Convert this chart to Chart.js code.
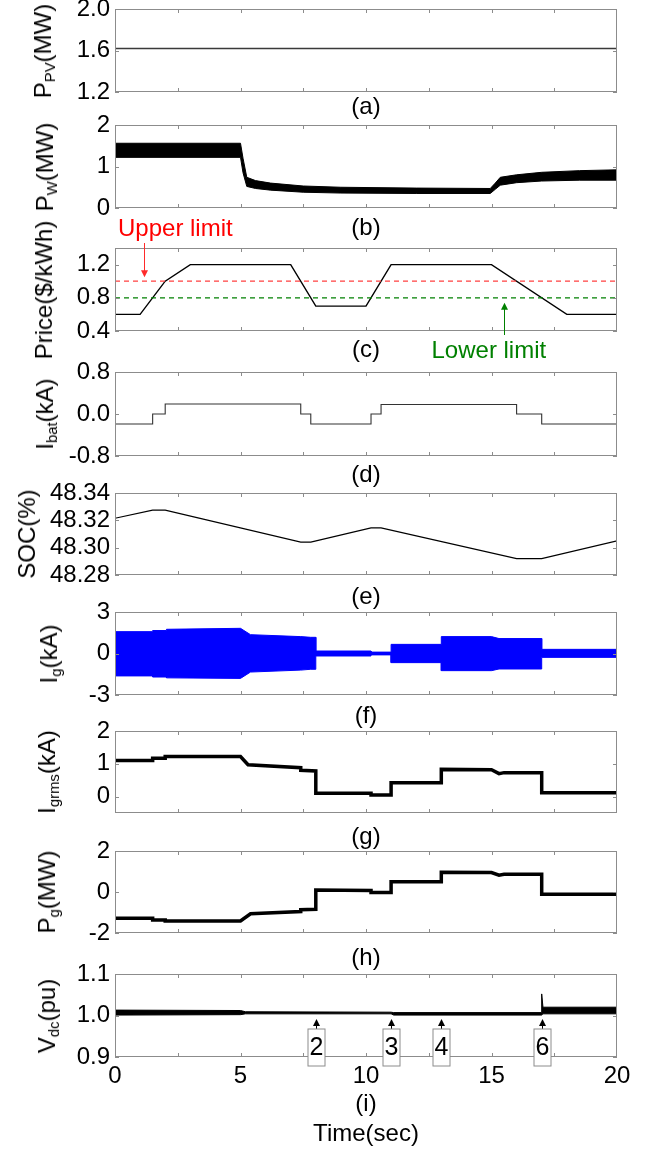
<!DOCTYPE html>
<html>
<head>
<meta charset="utf-8">
<script src="https://cdn.jsdelivr.net/npm/chart.js@4.4.1/dist/chart.umd.min.js"></script>
<style>
  body { margin: 0; background: #fff; }
  #fig { position: relative; width: 649px; height: 1151px; overflow: hidden; font-family: "Liberation Sans", Arial, sans-serif; }
  #fig canvas { position: absolute; left: 0; }
  .ylab { position: absolute; transform: translate(-50%, -50%) rotate(-90deg); white-space: nowrap; font-size: 24px; line-height: 1; color: #000; }
  .ylab sub { font-size: 62%; vertical-align: -0.3em; line-height: 0; }
</style>
</head>
<body>
<div id="fig"></div>
<script>
// ---- time axis (s) ----
const xTicks = [0, 5, 10, 15, 20];
const xMarks = [2.5, 5, 7.5, 10, 12.5, 15, 17.5];

// (a) PV power (MW)
const pvT = [0, 20];
const pvP = [1.62, 1.62];
const pvTicks = [1.2, 1.6, 2.0];

// (b) wind power band (MW)
const pwT  = [0, 5.0, 5.1, 5.25, 5.6, 6.2, 7.5, 9, 12, 14.95, 15.15, 15.35, 16, 17, 18.5, 20];
const pwHi = [1.56, 1.56, 1.20, 0.74, 0.66, 0.60, 0.53, 0.50, 0.48, 0.47, 0.60, 0.74, 0.80, 0.86, 0.90, 0.92];
const pwLo = [1.22, 1.22, 0.85, 0.52, 0.47, 0.43, 0.38, 0.36, 0.35, 0.35, 0.45, 0.55, 0.61, 0.65, 0.67, 0.67];
const pwTicks = [0, 1, 2];

// (c) electricity price ($/kWh) and limits
const priceT = [0, 1, 2, 3, 7, 8, 10, 11, 15, 18, 20];
const price  = [0.6, 0.6, 1.0, 1.2, 1.2, 0.7, 0.7, 1.2, 1.2, 0.6, 0.6];
const upperLimit = 1.0;
const lowerLimit = 0.8;
const priceTicks = [0.4, 0.8, 1.2];
const upperNote = { text: 'Upper limit', t: 1.14 };
const lowerNote = { text: 'Lower limit', t: 15.5 };

// (d) battery current (kA)
const batT = [0, 1.5, 1.5, 2.0, 2.0, 7.4, 7.4, 7.8, 7.8, 10.2, 10.2, 10.6, 10.6, 16.0, 16.0, 17.0, 17.0, 20];
const batI = [-0.19, -0.19, 0, 0, 0.19, 0.19, 0, 0, -0.19, -0.19, 0, 0, 0.18, 0.18, 0, 0, -0.19, -0.19];
const batTicks = [-0.8, 0.0, 0.8];

// (e) state of charge (%)
const socT = [0, 1.5, 2.0, 7.4, 7.8, 10.2, 10.6, 16.0, 17.0, 20];
const soc  = [48.3215, 48.3275, 48.3275, 48.3040, 48.3040, 48.3145, 48.3145, 48.2920, 48.2920, 48.3050];
const socTicks = [48.28, 48.30, 48.32, 48.34];

// (f) grid current envelope (kA)
const igT  = [0, 1.5, 1.5, 2.05, 2.05, 5.0, 5.4, 7.4, 7.8, 8.0, 8.0, 10.2, 10.2, 11.0, 11.0, 13.0, 13.0, 15.0, 15.3, 17.0, 17.0, 20];
const igHi = [1.58, 1.58, 1.66, 1.66, 1.75, 1.82, 1.36, 1.22, 1.17, 1.17, 0.18, 0.18, 0.10, 0.10, 0.66, 0.66, 1.22, 1.22, 1.08, 1.08, 0.30, 0.30];
const igLo = [-1.62, -1.62, -1.70, -1.70, -1.76, -1.80, -1.34, -1.20, -1.14, -1.14, -0.18, -0.18, -0.10, -0.10, -0.66, -0.66, -1.24, -1.24, -1.12, -1.12, -0.28, -0.28];
const igTicks = [-3, 0, 3];

// (g) grid rms current (kA)
const grmsT = [0, 1.5, 1.5, 2.0, 2.0, 5.0, 5.3, 7.4, 7.4, 8.0, 8.0, 10.2, 10.2, 11.0, 11.0, 13.0, 13.0, 15.0, 15.3, 15.5, 17.0, 17.0, 20];
const grms  = [1.10, 1.10, 1.17, 1.17, 1.22, 1.22, 0.97, 0.88, 0.80, 0.78, 0.10, 0.10, 0.05, 0.05, 0.42, 0.42, 0.83, 0.82, 0.70, 0.73, 0.73, 0.12, 0.12];
const grmsTicks = [0, 1, 2];

// (h) grid power (MW)
const pgT = [0, 1.5, 1.5, 2.0, 2.0, 5.0, 5.4, 7.4, 7.4, 8.0, 8.0, 10.2, 10.2, 11.0, 11.0, 13.0, 13.0, 15.0, 15.3, 15.5, 17.0, 17.0, 20];
const pg  = [-1.28, -1.28, -1.36, -1.36, -1.41, -1.41, -1.06, -0.95, -0.86, -0.84, 0.10, 0.07, -0.03, -0.03, 0.50, 0.50, 0.96, 0.95, 0.82, 0.86, 0.86, -0.11, -0.11];
const pgTicks = [-2, 0, 2];

// (i) dc-link voltage band (pu) and mode switches
const vdcT  = [0, 5.0, 5.2, 11.0, 11.1, 17.0, 17.0, 17.05, 20];
const vdcHi = [1.013, 1.012, 1.009, 1.008, 1.007, 1.007, 1.052, 1.020, 1.020];
const vdcLo = [1.001, 1.002, 1.004, 1.004, 1.001, 1.001, 1.001, 1.004, 1.004];
const vdcTicks = [0.9, 1.0, 1.1];
const modeT = [8, 11, 13, 17];
const modeLabel = ['2', '3', '4', '6'];

const FONT = '"Liberation Sans", Arial, sans-serif';
const PLOT_LEFT = 115, PLOT_RIGHT = 617, FIG_W = 649, FIG_H = 1151, PAD_TOP = 40;

function pts(t, v) { return t.map((x, i) => ({ x, y: v[i] })); }

function line(t, v, color, width, dash) {
  return { data: pts(t, v), borderColor: color, borderWidth: width, borderDash: dash || [],
           pointRadius: 0, tension: 0, fill: false };
}

// two datasets, the first filled down to the second
function band(t, hi, lo, color) {
  return [
    { data: pts(t, hi), borderColor: color, backgroundColor: color, borderWidth: 1, pointRadius: 0, fill: '+1' },
    { data: pts(t, lo), borderColor: color, borderWidth: 1, pointRadius: 0, fill: false }
  ];
}

function drawArrow(ctx, x, yTail, yTip, color) {
  const dir = Math.sign(yTip - yTail);
  ctx.strokeStyle = color; ctx.fillStyle = color; ctx.lineWidth = 1;
  ctx.beginPath(); ctx.moveTo(x, yTail); ctx.lineTo(x, yTip - dir * 5); ctx.stroke();
  ctx.beginPath(); ctx.moveTo(x, yTip); ctx.lineTo(x - 3.5, yTip - dir * 7); ctx.lineTo(x + 3.5, yTip - dir * 7);
  ctx.closePath(); ctx.fill();
}

// axes box with inward tick marks
const framePlugin = {
  id: 'frame',
  afterDatasetsDraw(chart) {
    const { ctx, chartArea: a, scales: { x, y } } = chart;
    ctx.save();
    ctx.strokeStyle = '#8c8c8c'; ctx.lineWidth = 1;
    ctx.strokeRect(Math.round(a.left) + 0.5, Math.round(a.top) + 0.5, Math.round(a.width) - 1, Math.round(a.height) - 1);
    ctx.beginPath();
    xMarks.forEach(v => {
      const px = Math.round(x.getPixelForValue(v)) + 0.5;
      ctx.moveTo(px, a.bottom); ctx.lineTo(px, a.bottom - 4);
      ctx.moveTo(px, a.top); ctx.lineTo(px, a.top + 4);
    });
    y.ticks.forEach(tk => {
      const py = Math.round(y.getPixelForValue(tk.value)) + 0.5;
      ctx.moveTo(a.left, py); ctx.lineTo(a.left + 4, py);
      ctx.moveTo(a.right, py); ctx.lineTo(a.right - 4, py);
    });
    ctx.stroke();
    ctx.restore();
  }
};

// price limit captions with arrows
const limitNotes = {
  id: 'limitNotes',
  afterDraw(chart) {
    const { ctx, chartArea: a, scales: { x, y } } = chart;
    ctx.save();
    ctx.font = '24px ' + FONT;
    ctx.textAlign = 'left'; ctx.textBaseline = 'alphabetic';
    ctx.fillStyle = '#ff0000';
    ctx.fillText(upperNote.text, a.left + 3, a.top - 12);
    drawArrow(ctx, Math.round(x.getPixelForValue(upperNote.t)) + 0.5, a.top - 5, y.getPixelForValue(upperLimit) - 4, '#ff2a2a');
    const lx = Math.round(x.getPixelForValue(lowerNote.t)) + 0.5;
    ctx.fillStyle = '#008000';
    ctx.fillText(lowerNote.text, lx - 73, a.bottom + 27);
    drawArrow(ctx, lx, a.bottom + 4, y.getPixelForValue(lowerLimit) + 5, '#008000');
    ctx.restore();
  }
};

// numbered boxes under the dc voltage trace
const modeMarks = {
  id: 'modeMarks',
  afterDraw(chart) {
    const { ctx, chartArea: a, scales: { x } } = chart;
    ctx.save();
    modeT.forEach((t, i) => {
      const px = Math.round(x.getPixelForValue(t)) + 0.5;
      drawArrow(ctx, px, a.bottom - 28, a.bottom - 38, '#000');
      ctx.fillStyle = '#fff'; ctx.strokeStyle = '#8c8c8c'; ctx.lineWidth = 1;
      ctx.fillRect(px - 8.5, a.bottom - 28, 17, 37);
      ctx.strokeRect(px - 8.5, a.bottom - 28, 17, 37);
      ctx.fillStyle = '#000'; ctx.font = '25px ' + FONT;
      ctx.textAlign = 'center'; ctx.textBaseline = 'middle';
      ctx.fillText(modeLabel[i], px, a.bottom - 8.5);
    });
    ctx.restore();
  }
};

const panels = [
  { top: 9, bottom: 92, gap: 15, min: 1.2, max: 2.0, ticks: pvTicks, dec: 1, letter: '(a)',
    label: 'P<sub>PV</sub>(MW)', labelX: 43, datasets: [line(pvT, pvP, '#3a3a3a', 1.6)] },
  { top: 125, bottom: 208, gap: 20, min: 0, max: 2, ticks: pwTicks, dec: 0, letter: '(b)',
    label: 'P<sub>W</sub>(MW)', labelX: 45, datasets: band(pwT, pwHi, pwLo, '#000') },
  { top: 248, bottom: 331, gap: 19, min: 0.4, max: 1.4, ticks: priceTicks, dec: 1, letter: '(c)',
    label: 'Price($/kWh)', labelX: 44, plugins: [limitNotes],
    datasets: [
      line([0, 20], [upperLimit, upperLimit], '#ff4040', 1.2, [5, 4]),
      line([0, 20], [lowerLimit, lowerLimit], '#008000', 1.2, [5, 4]),
      line(priceT, price, '#000', 1.4)
    ] },
  { top: 372, bottom: 456, gap: 19, min: -0.8, max: 0.8, ticks: batTicks, dec: 1, letter: '(d)',
    label: 'I<sub>bat</sub>(kA)', labelX: 45, datasets: [line(batT, batI, '#333', 1.1)] },
  { top: 493, bottom: 575, gap: 22, min: 48.28, max: 48.34, ticks: socTicks, dec: 2, letter: '(e)',
    label: 'SOC(%)', labelX: 27, datasets: [line(socT, soc, '#000', 1.2)] },
  { top: 612, bottom: 695, gap: 21, min: -3, max: 3, ticks: igTicks, dec: 0, letter: '(f)',
    label: 'I<sub>g</sub>(kA)', labelX: 49, datasets: band(igT, igHi, igLo, '#0000ff') },
  { top: 731, bottom: 813, gap: 24, min: -0.5, max: 2, ticks: grmsTicks, dec: 0, letter: '(g)',
    label: 'I<sub>grms</sub>(kA)', labelX: 47, datasets: [line(grmsT, grms, '#000', 3.5)] },
  { top: 851, bottom: 933, gap: 25, min: -2, max: 2, ticks: pgTicks, dec: 0, letter: '(h)',
    label: 'P<sub>g</sub>(MW)', labelX: 47, datasets: [line(pgT, pg, '#000', 3.5)] },
  { top: 974, bottom: 1057, last: true, min: 0.9, max: 1.1, ticks: vdcTicks, dec: 1, letter: ['(i)', 'Time(sec)'],
    label: 'V<sub>dc</sub>(pu)', labelX: 47, plugins: [modeMarks], datasets: band(vdcT, vdcHi, vdcLo, '#000') }
];

function buildPanel(fig, p) {
  const xAxisH = p.last ? FIG_H - p.bottom : p.gap + 16;
  const canvas = document.createElement('canvas');
  canvas.width = FIG_W;
  canvas.height = PAD_TOP + (p.bottom - p.top) + xAxisH;
  canvas.style.top = (p.top - PAD_TOP) + 'px';
  fig.appendChild(canvas);

  new Chart(canvas.getContext('2d'), {
    type: 'line',
    data: { datasets: p.datasets },
    plugins: [framePlugin].concat(p.plugins || []),
    options: {
      responsive: false,
      animation: false,
      events: [],
      layout: { padding: { top: PAD_TOP, right: FIG_W - PLOT_RIGHT, bottom: 0, left: 0 } },
      plugins: { legend: { display: false }, tooltip: { enabled: false } },
      scales: {
        x: {
          type: 'linear', min: 0, max: 20,
          grid: { display: false, drawTicks: false },
          border: { display: false },
          ticks: { display: !!p.last, autoSkip: false, maxRotation: 0, color: '#000', padding: 5,
                   font: { family: FONT, size: 24 } },
          title: { display: true, text: p.letter, color: '#000', padding: { top: 0, bottom: 2 },
                   font: { family: FONT, size: 24, lineHeight: p.last ? '30px' : '28px' } },
          afterBuildTicks: s => { s.ticks = xTicks.map(v => ({ value: v })); },
          afterFit: s => { s.height = xAxisH; }
        },
        y: {
          type: 'linear', min: p.min, max: p.max,
          grid: { display: false, drawTicks: false },
          border: { display: false },
          ticks: { autoSkip: false, color: '#000', padding: 5, font: { family: FONT, size: 24 },
                   callback: v => v.toFixed(p.dec) },
          afterBuildTicks: s => { s.ticks = p.ticks.map(v => ({ value: v })); },
          afterFit: s => { s.width = PLOT_LEFT; }
        }
      }
    }
  });

  const lab = document.createElement('div');
  lab.className = 'ylab';
  lab.innerHTML = p.label;
  lab.style.left = p.labelX + 'px';
  lab.style.top = ((p.top + p.bottom) / 2) + 'px';
  fig.appendChild(lab);
}

document.addEventListener('DOMContentLoaded', () => {
  const fig = document.getElementById('fig');
  panels.forEach(p => buildPanel(fig, p));
});
</script>
</body>
</html>
